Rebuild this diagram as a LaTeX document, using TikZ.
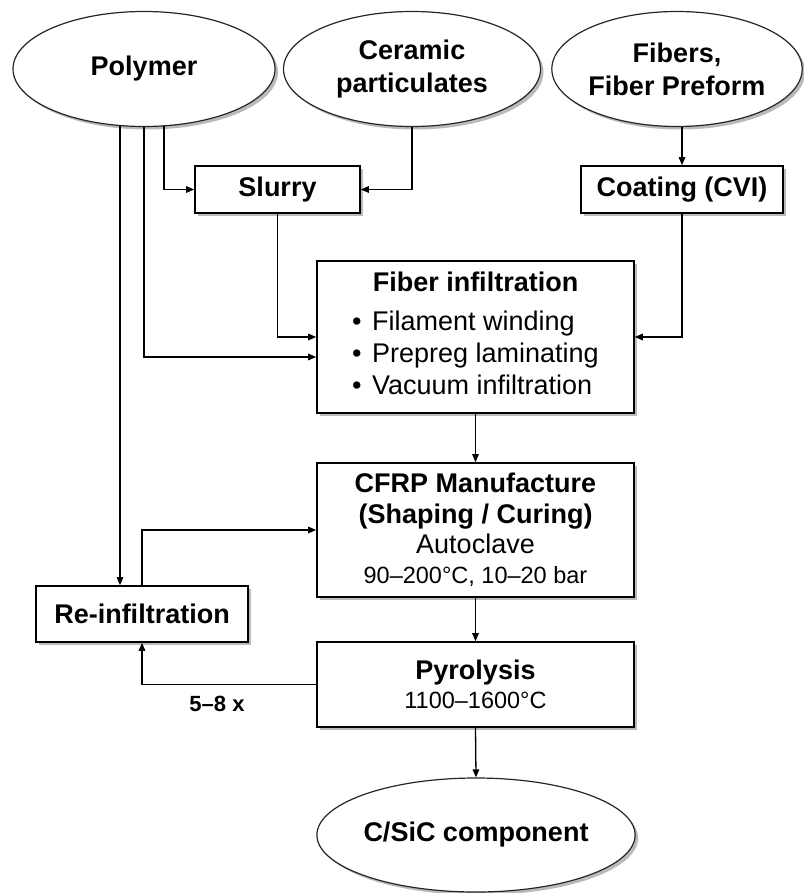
\documentclass[tikz,border=0pt]{standalone}
\usepackage{fontspec}
\setmainfont{Liberation Sans}
\usetikzlibrary{arrows.meta,shadows,calc,shapes.geometric}
\begin{document}
\begin{tikzpicture}[x=1pt,y=-1pt,
  shad/.style={drop shadow={shadow xshift=3pt,shadow yshift=-3pt,fill=black!45,opacity=0.6}},
  oval/.style={ellipse,draw=black!85,line width=1.2pt,fill=white,shad,inner sep=0pt,align=center,font=\fontsize{27}{33}\selectfont\bfseries},
  box/.style={rectangle,draw=black,line width=1.6pt,fill=white,shad,inner sep=0pt,align=center,font=\fontsize{27}{32}\selectfont},
  conn/.style={line width=1.3pt,-{Triangle[length=8pt,width=6.5pt]}},
  small/.style={}]
\useasboundingbox (0,0) rectangle (803,893);
\fill[white] (0,0) rectangle (803,893);
% top ellipses
\node[oval,minimum width=262pt,minimum height=115pt] (poly) at (144,69) {Polymer};
\node[oval,minimum width=257pt,minimum height=115pt] (cer) at (412,69) {Ceramic\\particulates};
\node[oval,minimum width=250pt,minimum height=115pt] (fib) at (677,69) {Fibers,\\Fiber Preform};
% boxes
\node[box,minimum width=165pt,minimum height=47pt] (slurry) at (277.5,189.5) {\bfseries Slurry};
\node[box,minimum width=202pt,minimum height=47pt] (coat) at (682,189.5) {\bfseries Coating (CVI)};
\node[box,minimum width=317pt,minimum height=152pt] (fi) at (475.5,337) {%
  \begin{tabular}{@{}c@{}}\bfseries Fiber infiltration\\[7pt]
  \begin{tabular}{@{}l@{}}
  \makebox[20pt][l]{•}Filament winding\\
  \makebox[20pt][l]{•}Prepreg laminating\\
  \makebox[20pt][l]{•}Vacuum infiltration
  \end{tabular}\end{tabular}};
\node[box,minimum width=317pt,minimum height=134pt] (cfrp) at (475.5,530) {%
  {\bfseries CFRP Manufacture}\\[-1pt]
  {\bfseries (Shaping / Curing)}\\[-2pt]
  Autoclave\\[-2pt]
  {\fontsize{23.5}{28}\selectfont 90–200°C, 10–20 bar}};
\node[box,minimum width=212pt,minimum height=56pt] (reinf) at (142,614) {\bfseries Re-infiltration};
\node[box,minimum width=317pt,minimum height=85pt] (pyro) at (475.5,684.5) {%
  {\bfseries Pyrolysis}\\[-3pt]
  {\fontsize{23.5}{28}\selectfont 1100–1600°C}};
\node[oval,minimum width=318pt,minimum height=114pt] (csic) at (476,835) {C/SiC component};
\node[font=\fontsize{22}{26}\selectfont\bfseries,inner sep=0pt] (times) at (217,704) {5–8 x};
% helper coordinates on the polymer ellipse
\coordinate (pa) at ($(poly.south)+(-24,-1)$);
\coordinate (pb) at ($(poly.south)+(0,0)$);
\coordinate (pc) at ($(poly.south)+(20,-1)$);
\coordinate (ca) at (coat.north |- fib.south);
% connectors
\draw[conn] (pc) |- (slurry.west);
\draw[conn] (cer.south) |- (slurry.east);
\draw[conn] (ca) -- (coat.north);
\draw[conn] (slurry.south) |- (fi.west);
\draw[conn] (pb) |- ($(fi.west)+(0,20)$);
\draw[conn] (coat.south) |- (fi.east);
\draw[conn] (pa) -- (pa |- reinf.north);
\draw[conn] (fi.south) -- (cfrp.north);
\draw[conn] (reinf.north) |- (cfrp.west);
\draw[conn] (cfrp.south) -- (pyro.north);
\draw[conn] (pyro.west) -| (reinf.south);
\draw[conn] (pyro.south) -- (csic.north);
\end{tikzpicture}
\end{document}
